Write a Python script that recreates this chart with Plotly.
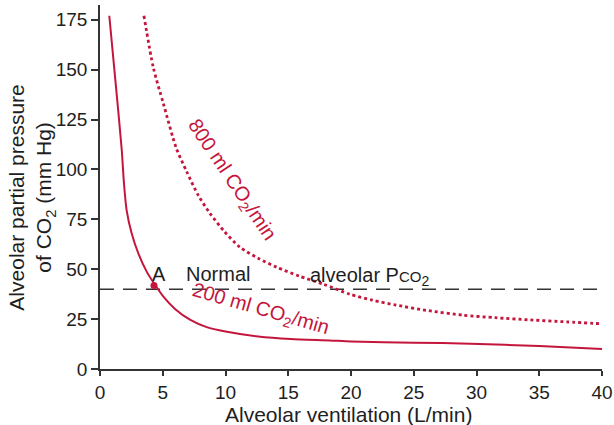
import plotly.graph_objects as go

# 200 ml CO2/min curve (solid)
vent_200 = [0.74, 1.25, 1.73, 1.91, 2.12, 2.52, 3.05, 3.72, 4.38, 5.05, 6.0, 7.2, 8.5, 10.0, 12.6, 15.2, 18.3, 20.0, 25.0, 29.5, 35.0, 40.0]
pco2_200 = [177, 143, 110, 93, 79.6, 68, 58, 48.8, 42.2, 36.3, 30, 24.6, 21, 18.8, 16.3, 15.0, 14.3, 13.8, 13.2, 12.7, 11.5, 10.0]

# 800 ml CO2/min curve (dotted)
vent_800 = [3.5, 4.25, 5.05, 6.06, 6.9, 7.83, 8.76, 9.9, 11.15, 12.6, 14.08, 15.9, 17.8, 19.9, 21.7, 23.6, 26.2, 28.9, 31.5, 34.3, 37.2, 40.1]
pco2_800 = [177, 151, 133, 111, 99, 87, 78, 69, 61, 55.5, 51, 46.5, 42.5, 37.5, 34.5, 32, 29.2, 27, 25.7, 24.6, 23.6, 22.6]

# Normal alveolar PCO2 reference
normal_x = [0, 40]
normal_y = [40, 40]

# Point A
point_a_x = [4.3]
point_a_y = [41.8]

x_ticks = [0, 5, 10, 15, 20, 25, 30, 35, 40]
y_ticks = [0, 25, 50, 75, 100, 125, 150, 175]

RED = "#c4163c"
INK = "#1e1e1e"
FONT = "Liberation Sans, Arial, sans-serif"

fig = go.Figure()
fig.add_trace(go.Scatter(x=normal_x, y=normal_y, mode="lines",
                         line=dict(color="#333333", width=1.6, dash="14px,9px"),
                         hoverinfo="skip", showlegend=False))
fig.add_trace(go.Scatter(x=vent_800, y=pco2_800, mode="lines", line_shape="spline",
                         line=dict(color=RED, width=2.8, dash="dot", smoothing=0.7), showlegend=False))
fig.add_trace(go.Scatter(x=vent_200, y=pco2_200, mode="lines", line_shape="spline",
                         line=dict(color=RED, width=2, smoothing=0.7), showlegend=False))
fig.add_trace(go.Scatter(x=point_a_x, y=point_a_y, mode="markers",
                         marker=dict(color=RED, size=7), showlegend=False))

ann_font = dict(family=FONT, size=20, color=INK)
red_font = dict(family=FONT, size=20, color=RED)
fig.add_annotation(x=4.7, y=47.5, text="A", showarrow=False, font=ann_font)
fig.add_annotation(x=9.44, y=47.5, text="Normal", showarrow=False, font=ann_font)
fig.add_annotation(x=21.5, y=46.5,
                   text="alveolar P<span style='font-size:15px'>CO</span><sub>2</sub>",
                   showarrow=False, font=ann_font)
fig.add_annotation(x=10.5, y=94.6, text="800 ml CO<sub>2</sub>/min", showarrow=False,
                   font=red_font, textangle=56)
fig.add_annotation(x=12.75, y=29.6, text="200 ml CO<sub>2</sub>/min", showarrow=False,
                   font=red_font, textangle=16)

# axis titles
title_font = dict(family=FONT, size=21, color=INK)
fig.add_annotation(xref="paper", yref="paper", x=0.495, y=-0.124,
                   text="Alveolar ventilation (L/min)", showarrow=False,
                   xanchor="center", yanchor="middle", font=title_font)
fig.add_annotation(xref="paper", yref="paper", x=-0.136, y=0.47,
                   text="Alveolar partial pressure<br>of CO<sub>2</sub> (mm Hg)", showarrow=False,
                   xanchor="center", yanchor="middle", textangle=-90, font=title_font)

axis_common = dict(showline=True, linecolor="#333333", linewidth=1.5, ticks="outside",
                   tickwidth=1.5, tickcolor="#333333", showgrid=False, zeroline=False,
                   automargin=False, tickfont=dict(family=FONT, size=19, color=INK))

fig.update_layout(
    width=614, height=425,
    margin=dict(l=100, r=12, t=5, b=56),
    paper_bgcolor="white", plot_bgcolor="white",
    xaxis=dict(range=[0, 40], tickvals=x_ticks, ticklen=5, **axis_common),
    yaxis=dict(range=[0, 182.4], tickvals=y_ticks, ticklen=7, **axis_common),
)

fig.write_html("out.html", config={"displayModeBar": False},
               post_script="document.body.style.margin='0';document.body.style.overflow='hidden';")
